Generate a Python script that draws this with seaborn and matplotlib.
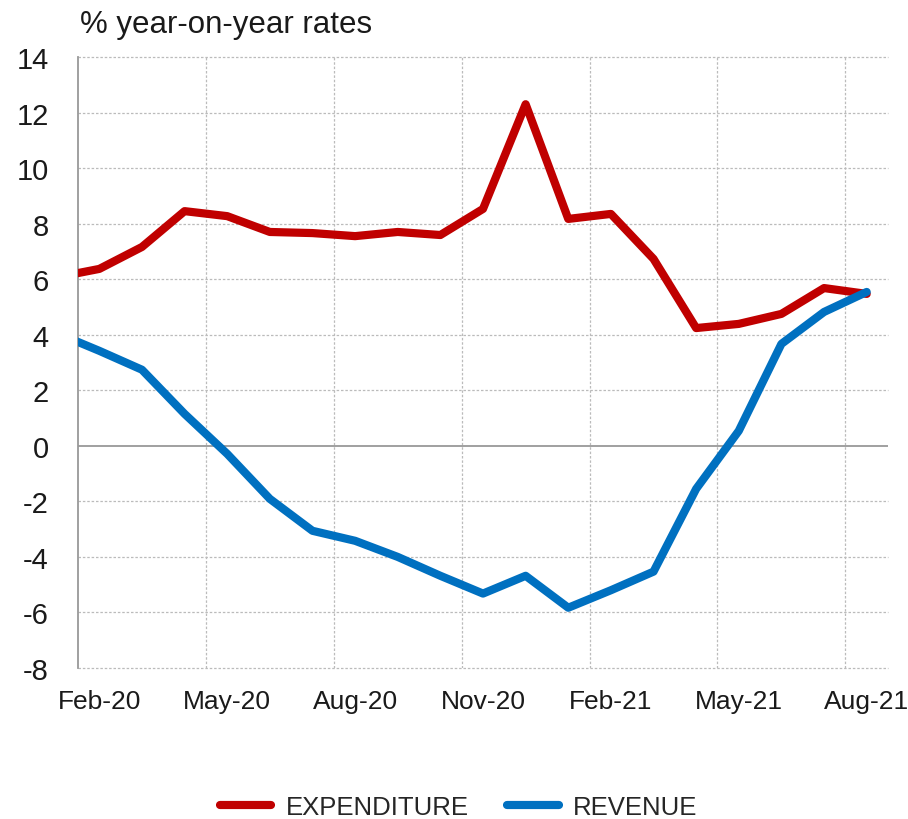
import numpy as np
import pandas as pd
import matplotlib
matplotlib.use("Agg")
import matplotlib.pyplot as plt
from matplotlib.lines import Line2D
import seaborn as sns

months = ["Jan-20", "Feb-20", "Mar-20", "Apr-20", "May-20", "Jun-20", "Jul-20",
          "Aug-20", "Sep-20", "Oct-20", "Nov-20", "Dec-20", "Jan-21", "Feb-21",
          "Mar-21", "Apr-21", "May-21", "Jun-21", "Jul-21", "Aug-21"]
expenditure = [6.07, 6.37, 7.16, 8.45, 8.27, 7.70, 7.66, 7.55, 7.70, 7.59,
               8.53, 12.30, 8.17, 8.35, 6.73, 4.24, 4.39, 4.75, 5.68, 5.47]
revenue = [4.06, 3.42, 2.74, 1.15, -0.29, -1.91, -3.06, -3.42, -4.00, -4.68,
           -5.32, -4.68, -5.83, -5.20, -4.53, -1.55, 0.54, 3.67, 4.82, 5.54]
series_names = ["EXPENDITURE", "REVENUE"]
series_colors = ["#C00000", "#0070C0"]
y_ticks = list(range(-8, 15, 2))
x_tick_labels = ["Feb-20", "May-20", "Aug-20", "Nov-20", "Feb-21", "May-21", "Aug-21"]

sns.set_style("white")
plt.rcParams["font.family"] = ["Liberation Sans", "DejaVu Sans"]

# month index: Feb-20 sits at 0, the Jan-20 point falls just left of the frame
pos = np.arange(len(months)) - 1
df = pd.DataFrame({
    "pos": np.concatenate([pos, pos]),
    "value": expenditure + revenue,
    "series": [series_names[0]] * len(months) + [series_names[1]] * len(months),
})

fig = plt.figure(figsize=(9.08, 8.2), dpi=100)
ax = fig.add_axes([78 / 908, 1 - 669 / 820, (888 - 78) / 908, (669 - 58) / 820])

sns.lineplot(data=df, x="pos", y="value", hue="series",
             palette=dict(zip(series_names, series_colors)),
             linewidth=5.9, ax=ax, legend=False, sort=False,
             solid_capstyle="round", solid_joinstyle="round", zorder=5)

ax.set_xlim(-0.5, 18.5)
ax.set_ylim(-8, 14)
ax.set_xlabel("")
ax.set_ylabel("")

# horizontal grid
for yv in y_ticks:
    if yv == 0:
        ax.axhline(0, color="#999999", lw=1.3, zorder=2)
    else:
        ax.axhline(yv, color="#BBBBBB", lw=0.9, ls=(0, (2, 1.5)), zorder=1,
                   clip_on=False)
# vertical grid between categories
for xv in np.arange(2.5, 18, 3):
    ax.axvline(xv, color="#BBBBBB", lw=0.9, ls=(0, (2, 1.5)), zorder=1)

for s in ["top", "right", "bottom"]:
    ax.spines[s].set_visible(False)
ax.spines["left"].set_color("#999999")
ax.spines["left"].set_linewidth(1.3)

ax.set_yticks(y_ticks)
ax.set_yticklabels([str(v) for v in y_ticks])
ax.set_xticks(np.arange(0, 19, 3))
ax.set_xticklabels(x_tick_labels)
ax.tick_params(axis="y", length=0, pad=21, labelsize=21, labelcolor="#1a1a1a")
ax.tick_params(axis="x", length=0, pad=15, labelsize=19, labelcolor="#1a1a1a")

fig.text(80 / 908, 1 - 25 / 820, "% year-on-year rates", ha="left", va="center",
         fontsize=22.5, color="#1a1a1a")

handles = [Line2D([0], [0], color=c, lw=5.9, solid_capstyle="round") for c in series_colors]
fig.legend(handles, series_names, loc="center", bbox_to_anchor=(0.505, 1 - 808 / 820),
           ncol=2, frameon=False, fontsize=18.5, handlelength=2.0, columnspacing=1.5,
           handletextpad=0.55)

fig.savefig("out.png", dpi=100)
